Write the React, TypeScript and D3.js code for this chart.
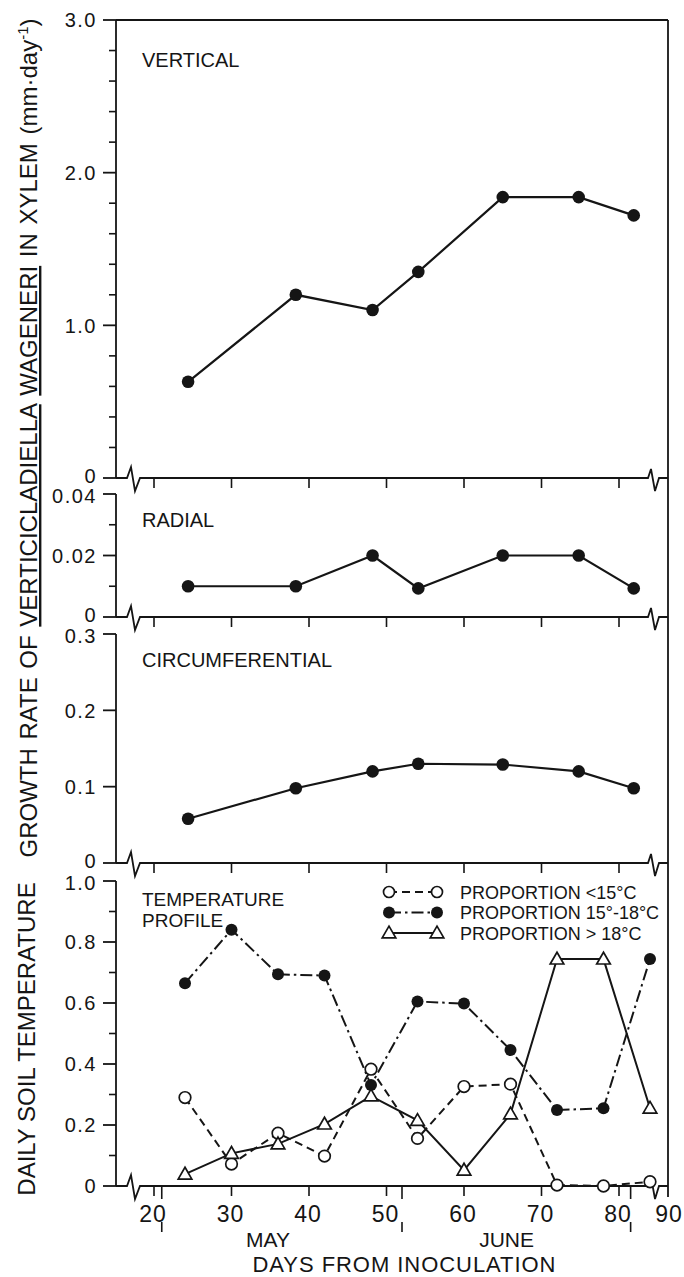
import React from 'react';
import * as d3 from 'd3';

// ---- data ----
const growthDays = [24.4, 38.3, 48.2, 54.1, 65.0, 74.8, 81.9];
const verticalRate = [0.63, 1.2, 1.1, 1.35, 1.84, 1.84, 1.72];
const radialRate = [0.01, 0.01, 0.02, 0.0093, 0.02, 0.02, 0.0093];
const circumRate = [0.058, 0.098, 0.12, 0.13, 0.129, 0.12, 0.098];

const tempDays = [24, 30, 36, 42, 48, 54, 60, 66, 72, 78, 84];
const below15 = [0.29, 0.072, 0.173, 0.098, 0.383, 0.156, 0.326, 0.334, 0.003, 0.0, 0.014];
const from15to18 = [0.665, 0.84, 0.694, 0.69, 0.331, 0.605, 0.598, 0.446, 0.249, 0.255, 0.744];
const above18 = [0.039, 0.107, 0.138, 0.203, 0.295, 0.215, 0.052, 0.236, 0.744, 0.744, 0.255];

const xTicks = [20, 30, 40, 50, 60, 70, 80];
const xEndLabel = '90';
const monthTicks = [21, 52, 81.5];
const monthLabels = [
  { name: 'MAY', day: 34.7 },
  { name: 'JUNE', day: 65.5 },
];
const legendLabels = ['PROPORTION <15°C', 'PROPORTION 15°-18°C', 'PROPORTION > 18°C'];

// ---- layout ----
const W = 684;
const H = 1277;
const LEFT = 116;
const RIGHT = 668;
const FONT = "'Liberation Sans', Arial, Helvetica, sans-serif";
const INK = '#151515';

const x = d3.scaleLinear().domain([20, 80]).range([154, 619]);

const topMinors = d3.range(1, 15).map((i) => i * 0.2).filter((v) => Math.abs(v - Math.round(v)) > 1e-6);

const panels = [
  { labels: ['VERTICAL'], labelY: [67], labelSize: 20, top: 20, bottom: 478, max: 3, majors: [0, 1, 2, 3], minors: topMinors, fmt: d3.format('.1f') },
  { labels: ['RADIAL'], labelY: [527], labelSize: 20, top: 494, bottom: 617, max: 0.04, majors: [0, 0.02, 0.04], minors: [0.01, 0.03], fmt: d3.format('.2f') },
  { labels: ['CIRCUMFERENTIAL'], labelY: [667], labelSize: 20, top: 634, bottom: 863, max: 0.3, majors: [0, 0.1, 0.2, 0.3], minors: [] as number[], fmt: d3.format('.1f') },
  { labels: ['TEMPERATURE', 'PROFILE'], labelY: [906, 927], labelSize: 19, top: 881, bottom: 1186, max: 1, majors: [0, 0.2, 0.4, 0.6, 0.8, 1.0], minors: [0.1, 0.3, 0.5, 0.7, 0.9], fmt: d3.format('.1f') },
];

const growthSeries = [verticalRate, radialRate, circumRate];

function axisPath(y0: number) {
  return [
    `M${LEFT},${y0}`,
    `L127,${y0}`,
    `L131,${y0 - 11}`,
    `L135,${y0 + 13}`,
    `L140,${y0}`,
    `L648,${y0}`,
    `L651,${y0 - 9}`,
    `L655,${y0 + 13}`,
    `L659,${y0}`,
    `L${RIGHT},${y0}`,
  ].join(' ');
}

const triPath = d3.symbol().type(d3.symbolTriangle).size(80)() as string;

function Triangle({ cx, cy }: { cx: number; cy: number }) {
  return <path d={triPath} transform={`translate(${cx},${cy + 1})`} fill="#fff" stroke={INK} strokeWidth={1.7} />;
}

export default function App() {
  const bottomPanel = panels[3];
  const yT = d3.scaleLinear().domain([0, 1]).range([bottomPanel.bottom, bottomPanel.top]);
  const tempLine = d3
    .line<number>()
    .x((_, i) => x(tempDays[i]))
    .y((d) => yT(d));

  const tempSeries = [
    { values: below15, dash: '8,5', kind: 'open' },
    { values: from15to18, dash: '12,4,2.5,4', kind: 'filled' },
    { values: above18, dash: 'none', kind: 'tri' },
  ];

  return (
    <svg width={W} height={H} style={{ position: 'absolute', left: 0, top: 0, background: '#fff' }} fontFamily={FONT}>
      <rect x={0} y={0} width={W} height={H} fill="#fff" />

      {/* rotated axis titles */}
      <text
        transform="translate(37,438) rotate(-90)"
        textAnchor="middle"
        fontSize={24}
        fill={INK}
        wordSpacing={2}
      >
        GROWTH RATE OF{' '}
        <tspan style={{ textDecoration: 'underline' }}>VERTICICLADIELLA</tspan>{' '}
        <tspan style={{ textDecoration: 'underline' }}>WAGENERI</tspan> IN XYLEM (mm·day
        <tspan dy={-9} fontSize={15}>-1</tspan>
        <tspan dy={9}>)</tspan>
      </text>
      <text transform="translate(35,1039) rotate(-90)" textAnchor="middle" fontSize={24} fill={INK}>
        DAILY SOIL TEMPERATURE
      </text>

      {/* top border and right frame */}
      <line x1={LEFT} y1={20} x2={RIGHT} y2={20} stroke={INK} strokeWidth={1.8} />
      <line x1={RIGHT} y1={20} x2={RIGHT} y2={1197} stroke={INK} strokeWidth={1.8} />

      {panels.map((p, pi) => {
        const y = d3.scaleLinear().domain([0, p.max]).range([p.bottom, p.top]);
        return (
          <g key={pi}>
            <line x1={LEFT} y1={p.top} x2={LEFT} y2={p.bottom} stroke={INK} strokeWidth={1.8} />
            <path d={axisPath(p.bottom)} fill="none" stroke={INK} strokeWidth={1.8} />
            {p.majors.map((v, vi) => {
              const shift = pi < 3 && v === 0 ? -2 : pi > 0 && vi === p.majors.length - 1 ? 2 : 0;
              return (
                <g key={'M' + v}>
                  <line x1={103} y1={y(v)} x2={LEFT} y2={y(v)} stroke={INK} strokeWidth={1.8} />
                  <text x={97} y={y(v) + shift} dy="0.36em" textAnchor="end" fontSize={20} letterSpacing={1.5} fill={INK}>
                    {v === 0 ? '0' : p.fmt(v)}
                  </text>
                </g>
              );
            })}
            {p.minors.map((v) => (
              <line key={'m' + v} x1={109} y1={y(v)} x2={LEFT} y2={y(v)} stroke={INK} strokeWidth={1.6} />
            ))}
            {xTicks.map((d) => (
              <line key={'x' + d} x1={x(d)} y1={p.bottom} x2={x(d)} y2={p.bottom + 10} stroke={INK} strokeWidth={1.6} />
            ))}
            {p.labels.map((t, i) => (
              <text key={t} x={142} y={p.labelY[i]} fontSize={p.labelSize} fill={INK}>
                {t}
              </text>
            ))}
            {pi < 3 && (
              <g>
                <path
                  d={
                    d3
                      .line<number>()
                      .x((_, i) => x(growthDays[i]))
                      .y((d) => y(d))(growthSeries[pi]) as string
                  }
                  fill="none"
                  stroke={INK}
                  strokeWidth={2.2}
                />
                {growthSeries[pi].map((v, i) => (
                  <circle key={i} cx={x(growthDays[i])} cy={y(v)} r={6.3} fill={INK} />
                ))}
              </g>
            )}
          </g>
        );
      })}

      {/* month ticks on the bottom axis */}
      {monthTicks.map((d) => (
        <g key={'mt' + d}>
          <line x1={x(d)} y1={1186} x2={x(d)} y2={1199} stroke={INK} strokeWidth={1.6} />
          <line x1={x(d)} y1={1222} x2={x(d)} y2={1232} stroke={INK} strokeWidth={1.6} />
        </g>
      ))}

      {/* x tick labels */}
      {xTicks.map((d) => (
        <text key={'xl' + d} x={x(d) - 1} y={1222} textAnchor="middle" fontSize={23} letterSpacing={1} fill={INK}>
          {d}
        </text>
      ))}
      <text x={RIGHT + 1} y={1222} textAnchor="middle" fontSize={23} letterSpacing={1} fill={INK}>
        {xEndLabel}
      </text>
      {monthLabels.map((m) => (
        <text key={m.name} x={x(m.day)} y={1247} textAnchor="middle" fontSize={21} fill={INK}>
          {m.name}
        </text>
      ))}
      <text x={404} y={1272} textAnchor="middle" fontSize={22} textLength={303} lengthAdjust="spacing" fill={INK}>
        DAYS FROM INOCULATION
      </text>

      {/* temperature profile series */}
      {tempSeries.map((s, si) => (
        <path
          key={'tl' + si}
          d={tempLine(s.values) as string}
          fill="none"
          stroke={INK}
          strokeWidth={2}
          strokeDasharray={s.dash}
        />
      ))}
      {tempSeries.map((s, si) =>
        s.values.map((v, i) => {
          const cx = x(tempDays[i]);
          const cy = yT(v);
          if (s.kind === 'filled') return <circle key={si + '-' + i} cx={cx} cy={cy} r={6} fill={INK} />;
          if (s.kind === 'open')
            return <circle key={si + '-' + i} cx={cx} cy={cy} r={5.8} fill="#fff" stroke={INK} strokeWidth={1.7} />;
          return <Triangle key={si + '-' + i} cx={cx} cy={cy} />;
        })
      )}

      {/* legend */}
      {tempSeries.map((s, si) => {
        const ly = 892 + si * 20.5;
        return (
          <g key={'lg' + si}>
            <line x1={389} y1={ly} x2={437} y2={ly} stroke={INK} strokeWidth={2} strokeDasharray={s.dash} />
            {s.kind === 'filled' ? (
              <>
                <circle cx={389} cy={ly} r={6} fill={INK} />
                <circle cx={437} cy={ly} r={6} fill={INK} />
              </>
            ) : s.kind === 'open' ? (
              <>
                <circle cx={389} cy={ly} r={5.5} fill="#fff" stroke={INK} strokeWidth={1.7} />
                <circle cx={437} cy={ly} r={5.5} fill="#fff" stroke={INK} strokeWidth={1.7} />
              </>
            ) : (
              <>
                <Triangle cx={389} cy={ly} />
                <Triangle cx={437} cy={ly} />
              </>
            )}
            <text x={460} y={ly + 6.5} fontSize={18} fill={INK}>
              {legendLabels[si]}
            </text>
          </g>
        );
      })}
    </svg>
  );
}
